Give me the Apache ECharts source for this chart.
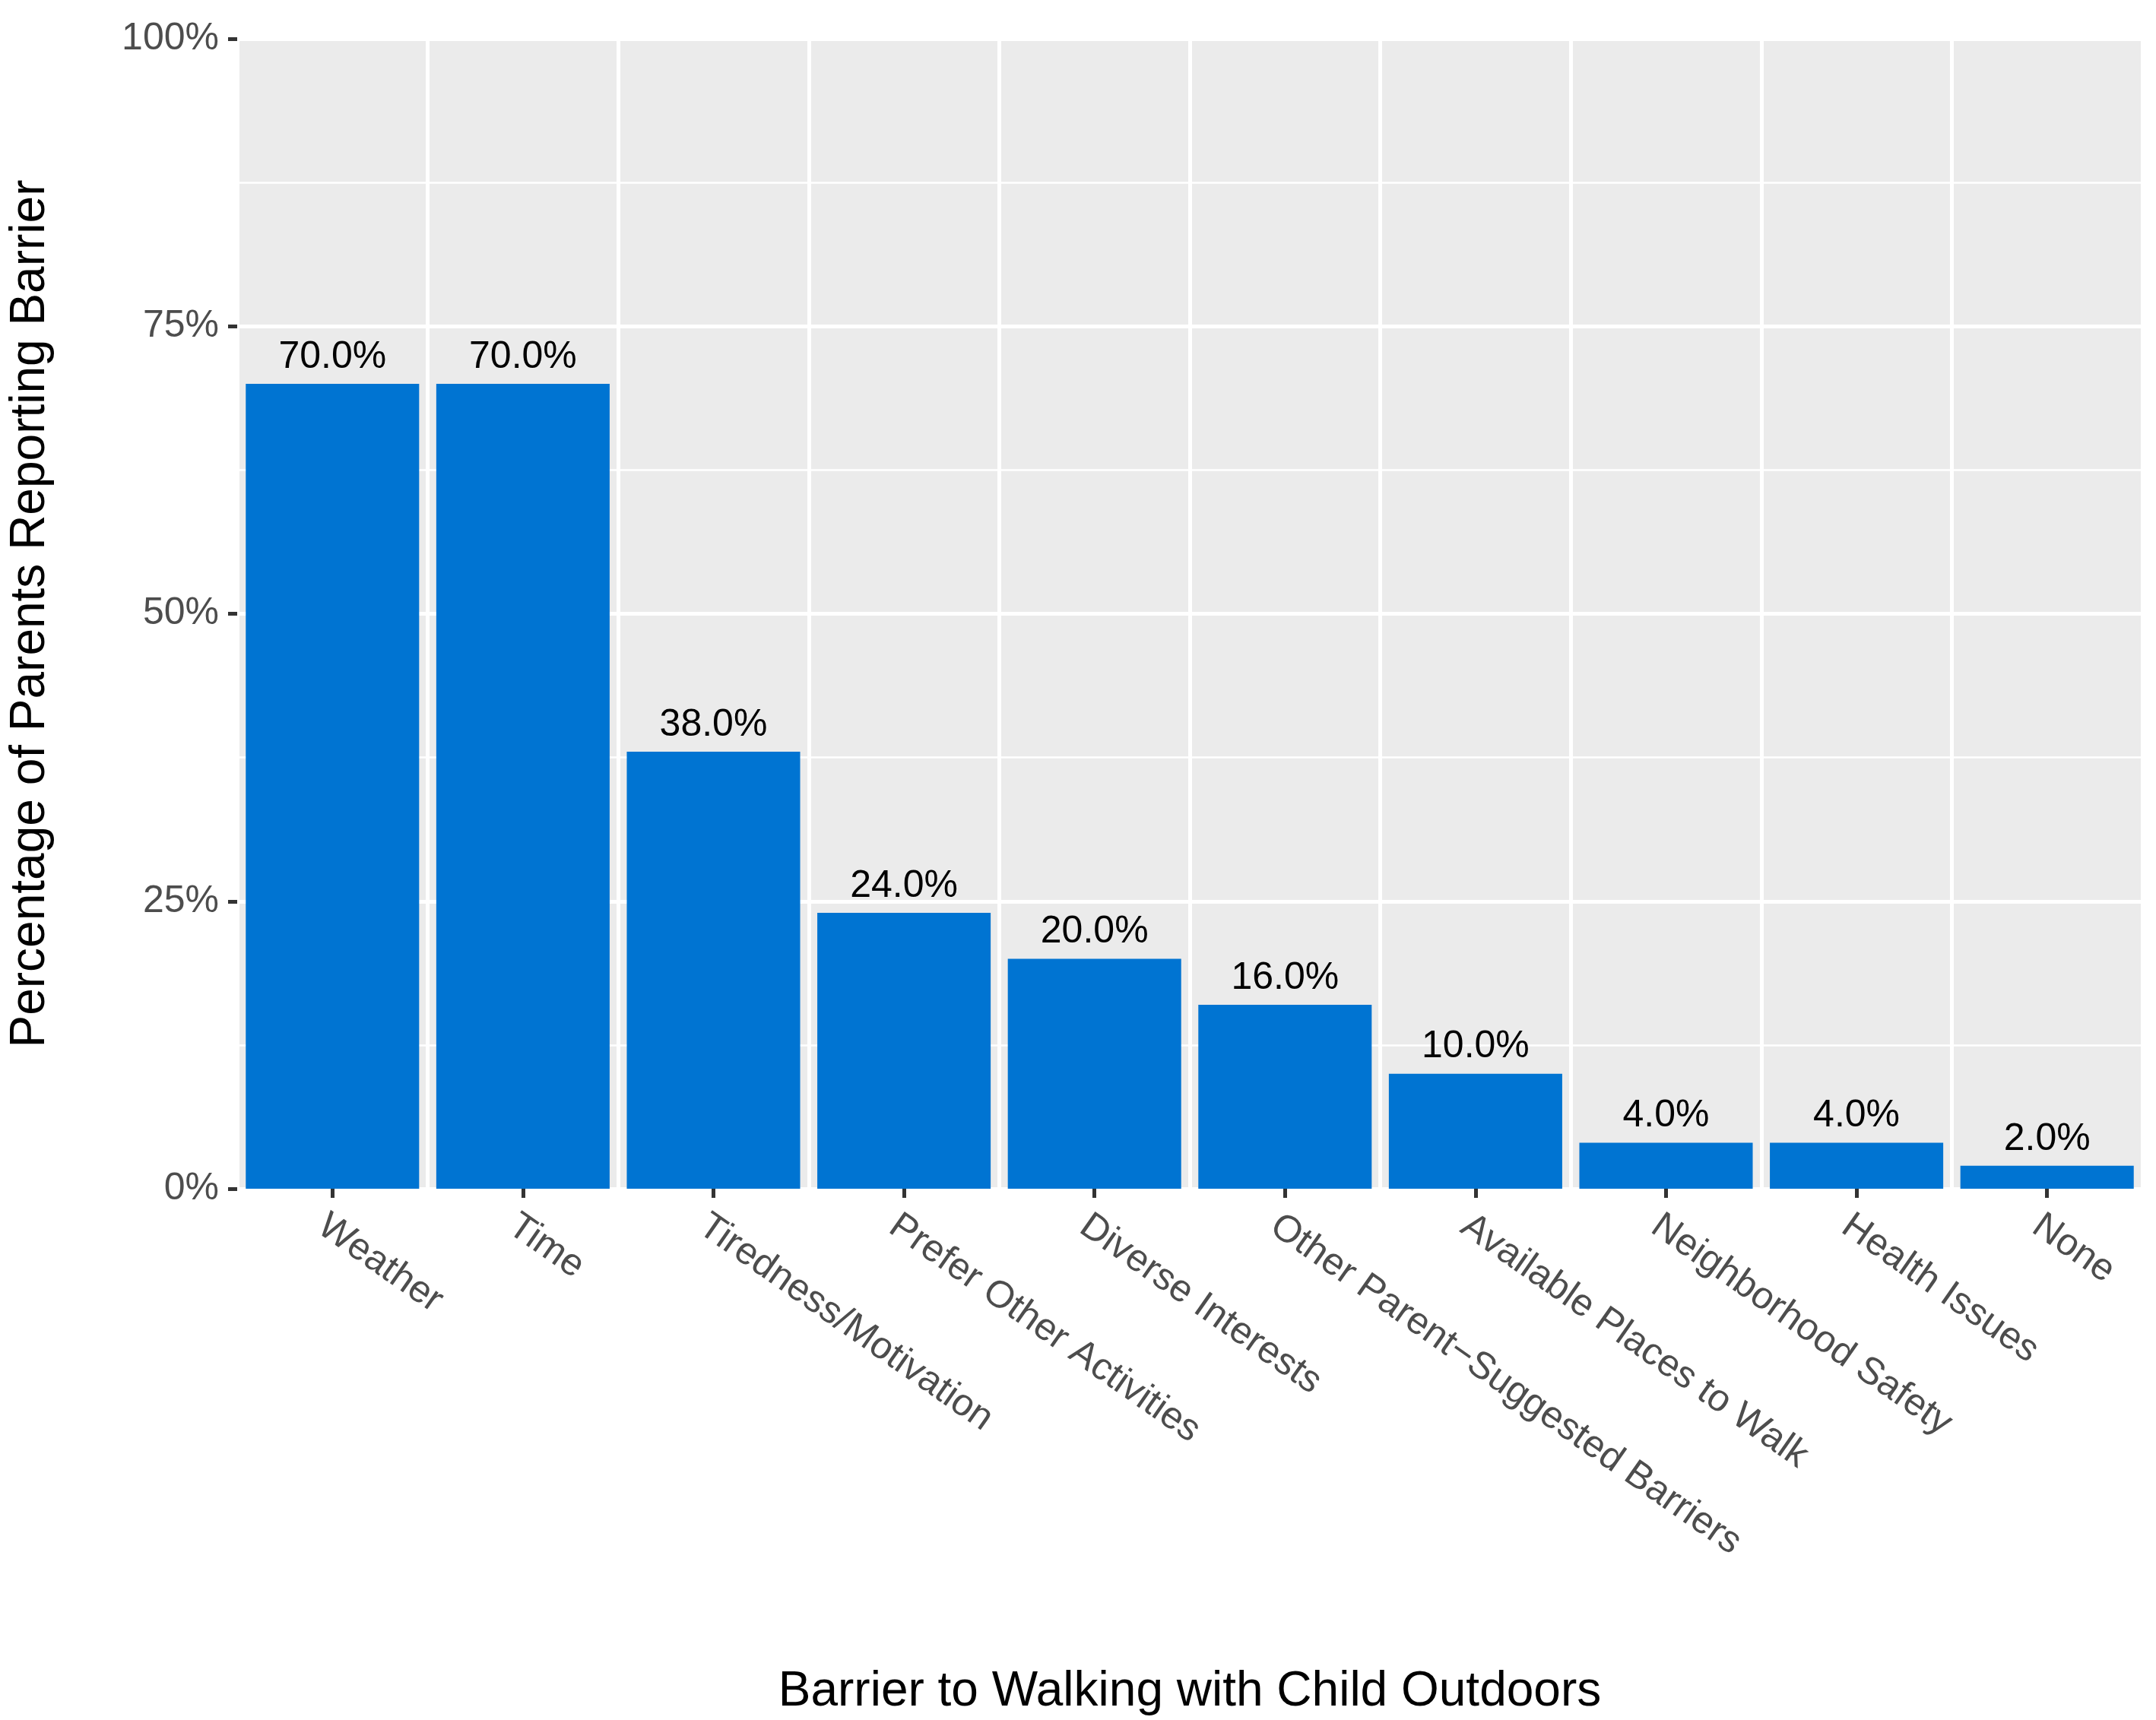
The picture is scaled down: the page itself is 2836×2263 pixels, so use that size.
<!DOCTYPE html>
<html><head><meta charset="utf-8">
<script src="https://cdn.jsdelivr.net/npm/echarts@6/dist/echarts.min.js"></script>
<style>html,body{margin:0;background:#fff}#c{width:2836px;height:2263px}</style>
</head><body><div id="c"></div>
<script>
var categories = ["Weather","Time","Tiredness/Motivation","Prefer Other Activities","Diverse Interests","Other Parent\u2212Suggested Barriers","Available Places to Walk","Neighborhood Safety","Health Issues","None"];
var values = [70,70,38,24,20,16,10,4,4,2];
var yTicks = [0,25,50,75,100];

var chart = echarts.init(document.getElementById("c"));
var font = "Arial, 'Liberation Sans', sans-serif";
chart.setOption({
  backgroundColor: "#fff",
  grid: { left: 298, right: 18, top: 51, bottom: 698, backgroundColor: "#EBEBEB", show: true, borderWidth: 0 },
  xAxis: {
    type: "category", data: categories,
    name: "Barrier to Walking with Child Outdoors", nameLocation: "middle", nameGap: 630,
    nameTextStyle: { fontSize: 64, color: "#000", fontFamily: font },
    axisLine: { show: false },
    axisTick: { show: true, alignWithLabel: true, length: 12, lineStyle: { color: "#333", width: 5 } },
    axisLabel: { rotate: -35, fontSize: 50, color: "#4D4D4D", fontFamily: font, margin: 24, interval: 0, align: "left", verticalAlign: "top" },
    splitLine: { show: true, interval: 0, lineStyle: { color: "#fff", width: 5 } }
  },
  yAxis: {
    type: "value", min: 0, max: 100, interval: 25,
    name: "Percentage of Parents Reporting Barrier", nameLocation: "middle", nameGap: 240,
    nameTextStyle: { fontSize: 64, color: "#000", fontFamily: font },
    axisLine: { show: false },
    axisTick: { show: true, length: 12, lineStyle: { color: "#333", width: 5 } },
    axisLabel: { fontSize: 50, color: "#4D4D4D", fontFamily: font, margin: 24,
      formatter: function (v) { return yTicks.indexOf(v) >= 0 ? v + "%" : ""; } },
    splitLine: { lineStyle: { color: "#fff", width: 5 } },
    minorTick: { show: false, splitNumber: 2 },
    minorSplitLine: { show: true, lineStyle: { color: "#fff", width: 2.5 } }
  },
  series: [{
    type: "bar", data: values, barCategoryGap: "9%",
    itemStyle: { color: "#0074D2" },
    label: { show: true, position: "top", distance: 10, fontSize: 50, color: "#000", fontFamily: font,
      formatter: function (p) { return p.value.toFixed(1) + "%"; } }
  }]
});
</script></body></html>
